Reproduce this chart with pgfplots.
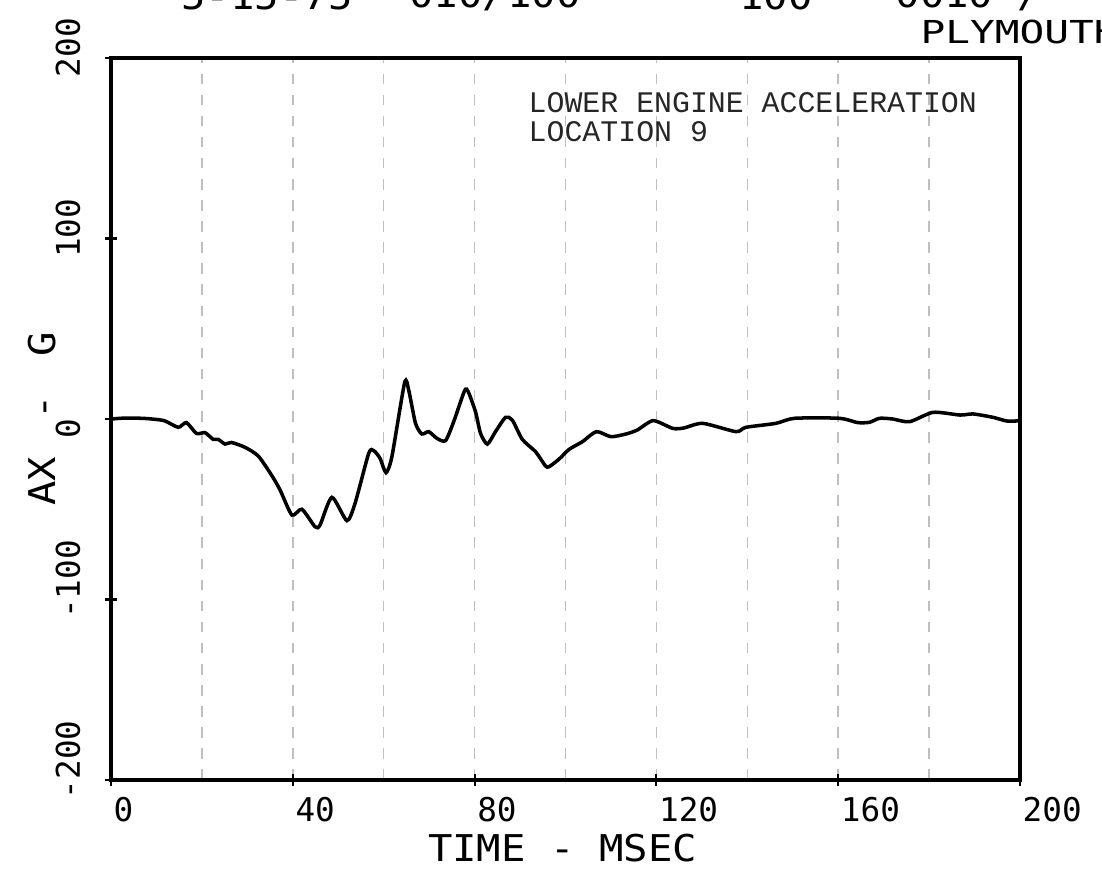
\documentclass[border=0pt]{standalone}
\usepackage{fontspec}
\usepackage{pgfplots}
\pgfplotsset{compat=1.18}
\newfontfamily\tickfont{DejaVu Sans Mono}
\newfontfamily\labfont[FakeStretch=1.1]{DejaVu Sans Mono}
\newfontfamily\headfont[FakeStretch=1.3]{DejaVu Sans Mono}
\newfontfamily\typefont{Liberation Mono}

\begin{document}
\begin{tikzpicture}
\begin{axis}[
    name=ax,
    at={(0,0)}, anchor=south west,
    scale only axis,
    width=9.09cm, height=7.22cm,
    xmin=0, xmax=200, ymin=-200, ymax=200,
    xtick={0,40,...,200},
    xticklabels={0,40,80,120,160,200},
    minor xtick={20,60,...,180},
    ytick={-200,-100,0,100,200},
    yticklabels={-200,-100,0,100,200},
    xtick pos=lower, ytick pos=left,
    xmajorgrids, xminorgrids,
    major grid style={gray!50, line width=0.4pt, dash pattern=on 3pt off 3pt},
    minor grid style={gray!50, line width=0.4pt, dash pattern=on 3pt off 3pt},
    axis line style={line width=1pt},
    tick style={black, line width=0.6pt},
    major tick length=0.12cm, minor tick length=0pt,
    tick align=center,
    ticklabel style={font=\fontsize{9.3}{11}\selectfont\tickfont, inner sep=0pt},
    xticklabel style={anchor=north west, xshift=0.02cm, yshift=-0.11cm},
    yticklabel style={rotate=90, anchor=south west, xshift=-0.20cm, yshift=0.24cm},
    xlabel={TIME - MSEC},
    ylabel={AX\hspace{0.38cm}-\hspace{0.38cm}G},
    label style={font=\fontsize{10.5}{12}\selectfont\labfont, inner sep=0pt},
    xlabel style={at={(axis description cs:0.5,0)}, anchor=center, xshift=-0.03cm, yshift=-0.68cm},
    ylabel style={at={(axis description cs:0,0.5)}, anchor=center, yshift=0.69cm},
]
\addplot[black, line width=1pt, smooth, tension=0.4] coordinates {
(0,0) (3,0.5) (6.7,0.4) (9,0) (11.8,-1) (14.8,-4.6) (16.6,-2) (18.8,-8)
(20.7,-7.6) (22.5,-11.3) (23.6,-11.3) (25.1,-13.9) (26.5,-13) (29.5,-15.7)
(32.4,-20.5) (35.3,-31) (37.2,-39.3) (39.8,-53.2) (42,-50) (44.9,-59.7)
(46,-58.7) (48.6,-43.4) (51.9,-56.3) (53.7,-46.7) (56.7,-19) (57.8,-17.5)
(59.2,-21.8) (60.5,-29.7) (61.8,-20.9) (64.6,20.1) (65.5,16) (67,-2.4)
(68.4,-8.3) (69.9,-7) (71.7,-10.7) (73.6,-12) (75.4,-1.5) (77.8,15.7)
(78.6,15.1) (80.2,4) (81.3,-7.9) (82.8,-13.9) (84.6,-7) (86.8,0.9)
(88.3,-0.6) (90.5,-11.3) (93.4,-18.1) (95.6,-26) (96.4,-26.4) (98.6,-22.2)
(100.8,-16.8) (103.7,-12.6) (106.8,-7) (110,-9.8) (113.3,-8.3) (115.8,-6.1)
(119.3,-0.9) (123.6,-5.2) (126,-5) (130.2,-2.4) (137.5,-7) (139.7,-4.6)
(146.3,-2.4) (150.4,0.4) (160.3,0.4) (164.3,-2) (166.9,-1.8) (169.1,0.4)
(172,0) (175.7,-1.5) (180.9,3.7) (186.8,2.2) (189.7,2.8) (194.1,0.9)
(197.1,-1.1) (200,-1)
};
\end{axis}

% annotation inside the frame
\node[anchor=north west, inner sep=0pt, align=left, text=black!85,
      font=\fontsize{8.5}{8.3}\selectfont\typefont] at (4.17,6.88)
      {LOWER ENGINE ACCELERATION\\LOCATION 9};

% header lines, partly cut off by the page edge
\begin{scope}[every node/.style={inner sep=0pt, font=\fontsize{10.5}{12}\selectfont\labfont}]
\node at (1.56,7.84) {5-15-75};
\node at (3.84,7.84) {010/100};
\node at (6.65,7.84) {100};
\node at (8.58,7.84) {0010 /};
\node[anchor=west, font=\fontsize{9}{11}\selectfont\headfont] at (8.09,7.48) {PLYMOUTH};
\end{scope}

\pgfresetboundingbox
\useasboundingbox (-1.11,-0.97) rectangle (9.91,7.80);
\end{tikzpicture}
\end{document}
